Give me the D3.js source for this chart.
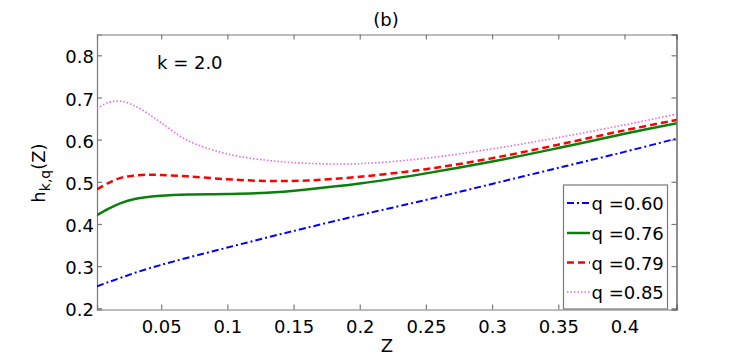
<!DOCTYPE html>
<html><head><meta charset="utf-8">
<script src="https://cdn.jsdelivr.net/npm/d3@7"></script>
<style>
body{margin:0;background:#fff;}
svg{display:block;font-family:"DejaVu Sans",sans-serif;}
</style></head>
<body><svg id="c" width="747" height="359"></svg>
<script>
const zValues = [0.0015, 0.01, 0.02, 0.03, 0.04, 0.05, 0.07, 0.1, 0.13, 0.16, 0.2, 0.25, 0.3, 0.35, 0.4, 0.44];
const q060 = [0.252, 0.262, 0.273, 0.284, 0.294, 0.303, 0.320, 0.344, 0.368, 0.391, 0.421, 0.457, 0.495, 0.533, 0.571, 0.603];
const q076 = [0.421, 0.436, 0.450, 0.459, 0.464, 0.467, 0.470, 0.471, 0.474, 0.482, 0.496, 0.520, 0.548, 0.580, 0.614, 0.639];
const q079 = [0.482, 0.497, 0.510, 0.515, 0.517, 0.516, 0.513, 0.506, 0.502, 0.503, 0.512, 0.530, 0.556, 0.588, 0.622, 0.647];
const q085 = [0.674, 0.688, 0.691, 0.680, 0.662, 0.640, 0.598, 0.566, 0.551, 0.544, 0.543, 0.556, 0.578, 0.605, 0.635, 0.661];
const seriesNames = ["q =0.60", "q =0.76", "q =0.79", "q =0.85"];
const xTicks = [0.05, 0.1, 0.15, 0.2, 0.25, 0.3, 0.35, 0.4];
const xTickLabels = ["0.05", "0.1", "0.15", "0.2", "0.25", "0.3", "0.35", "0.4"];
const yTicks = [0.2, 0.3, 0.4, 0.5, 0.6, 0.7, 0.8];
const yTickLabels = ["0.2", "0.3", "0.4", "0.5", "0.6", "0.7", "0.8"];
const titleText = "(b)";
const annotation = "k = 2.0";

const seriesData = [q060, q076, q079, q085];
const styles = [
  {color:"#0000ff", w:2, dash:"7,3,2,3"},
  {color:"#0a800a", w:2.5, dash:null},
  {color:"#ff0000", w:2.5, dash:"7,4"},
  {color:"#e26ae2", w:1.6, dash:"1.5,2"}
];

const svg = d3.select("#c");
const L = 97, R = 676.5, T = 34.5, B = 309.5;
const x = d3.scaleLinear().domain([0.0015, 0.4393]).range([L, R]);
const y = d3.scaleLinear().domain([0.1972, 0.8493]).range([B, T]);
const axisCol = "#7a7a7a";
const fs = 18;
const ff = "DejaVu Sans, sans-serif";

svg.append("defs").append("clipPath").attr("id","clip")
  .append("rect").attr("x",L).attr("y",T).attr("width",R-L).attr("height",B-T);

// axes
const gx = svg.append("g").attr("transform",`translate(0,${B})`)
  .call(d3.axisBottom(x).tickValues(xTicks).tickSize(-5).tickFormat((d,i)=>xTickLabels[i]));
gx.selectAll("text").attr("y",23.5).attr("dy",0).attr("font-size",fs).attr("fill","#000").attr("font-family",ff);
const gxt = svg.append("g").attr("transform",`translate(0,${T})`)
  .call(d3.axisTop(x).tickValues(xTicks).tickSize(-5).tickFormat(""));
const gy = svg.append("g").attr("transform",`translate(${L},0)`)
  .call(d3.axisLeft(y).tickValues(yTicks).tickSize(-5).tickFormat((d,i)=>yTickLabels[i]));
gy.selectAll("text").attr("x",-3).attr("dy","0.42em").attr("font-size",fs).attr("fill","#000").attr("font-family",ff);
const gyr = svg.append("g").attr("transform",`translate(${R},0)`)
  .call(d3.axisRight(y).tickValues(yTicks).tickSize(-5).tickFormat(""));
[gx,gxt,gy,gyr].forEach(g=>{
  g.select(".domain").attr("stroke",axisCol).attr("stroke-width",1.2);
  g.selectAll(".tick line").attr("stroke",axisCol).attr("stroke-width",1.2);
});
gyr.select(".domain").attr("stroke","#444");

// lines
const line = d3.line().x(d=>x(d[0])).y(d=>y(d[1])).curve(d3.curveCatmullRom.alpha(0.5));
const plot = svg.append("g").attr("clip-path","url(#clip)");
seriesData.forEach((vals,i)=>{
  const pts = zValues.map((z,j)=>[z,vals[j]]);
  plot.append("path").datum(pts).attr("d",line)
    .attr("fill","none").attr("stroke",styles[i].color).attr("stroke-width",styles[i].w)
    .attr("stroke-dasharray",styles[i].dash);
});

// texts
svg.append("text").attr("x",386).attr("y",26).attr("text-anchor","middle").attr("font-size",fs).text(titleText);
svg.append("text").attr("x",157).attr("y",68.5).attr("font-size",fs).text(annotation);
svg.append("text").attr("x",387).attr("y",351.5).attr("text-anchor","middle").attr("font-size",fs).text("Z");
const yl = svg.append("text").attr("transform","translate(45,173) rotate(-90)").attr("text-anchor","middle").attr("font-size",fs);
yl.append("tspan").text("h");
yl.append("tspan").attr("font-size",14).attr("dy",5).text("k,q");
yl.append("tspan").attr("dy",-5).text("(Z)");

// legend
const lg = svg.append("g");
lg.append("rect").attr("x",563.5).attr("y",185).attr("width",104).attr("height",124)
  .attr("fill","#fff").attr("stroke",axisCol).attr("stroke-width",1.2);
const baselines = [210, 240, 269.5, 299];
seriesNames.forEach((n,i)=>{
  const cy = baselines[i]-7;
  lg.append("line").attr("x1",567).attr("x2",590).attr("y1",cy).attr("y2",cy)
    .attr("stroke",styles[i].color).attr("stroke-width",styles[i].w).attr("stroke-dasharray",styles[i].dash);
  lg.append("text").attr("x",591.5).attr("y",baselines[i]).attr("font-size",fs).text(n);
});
</script></body></html>
